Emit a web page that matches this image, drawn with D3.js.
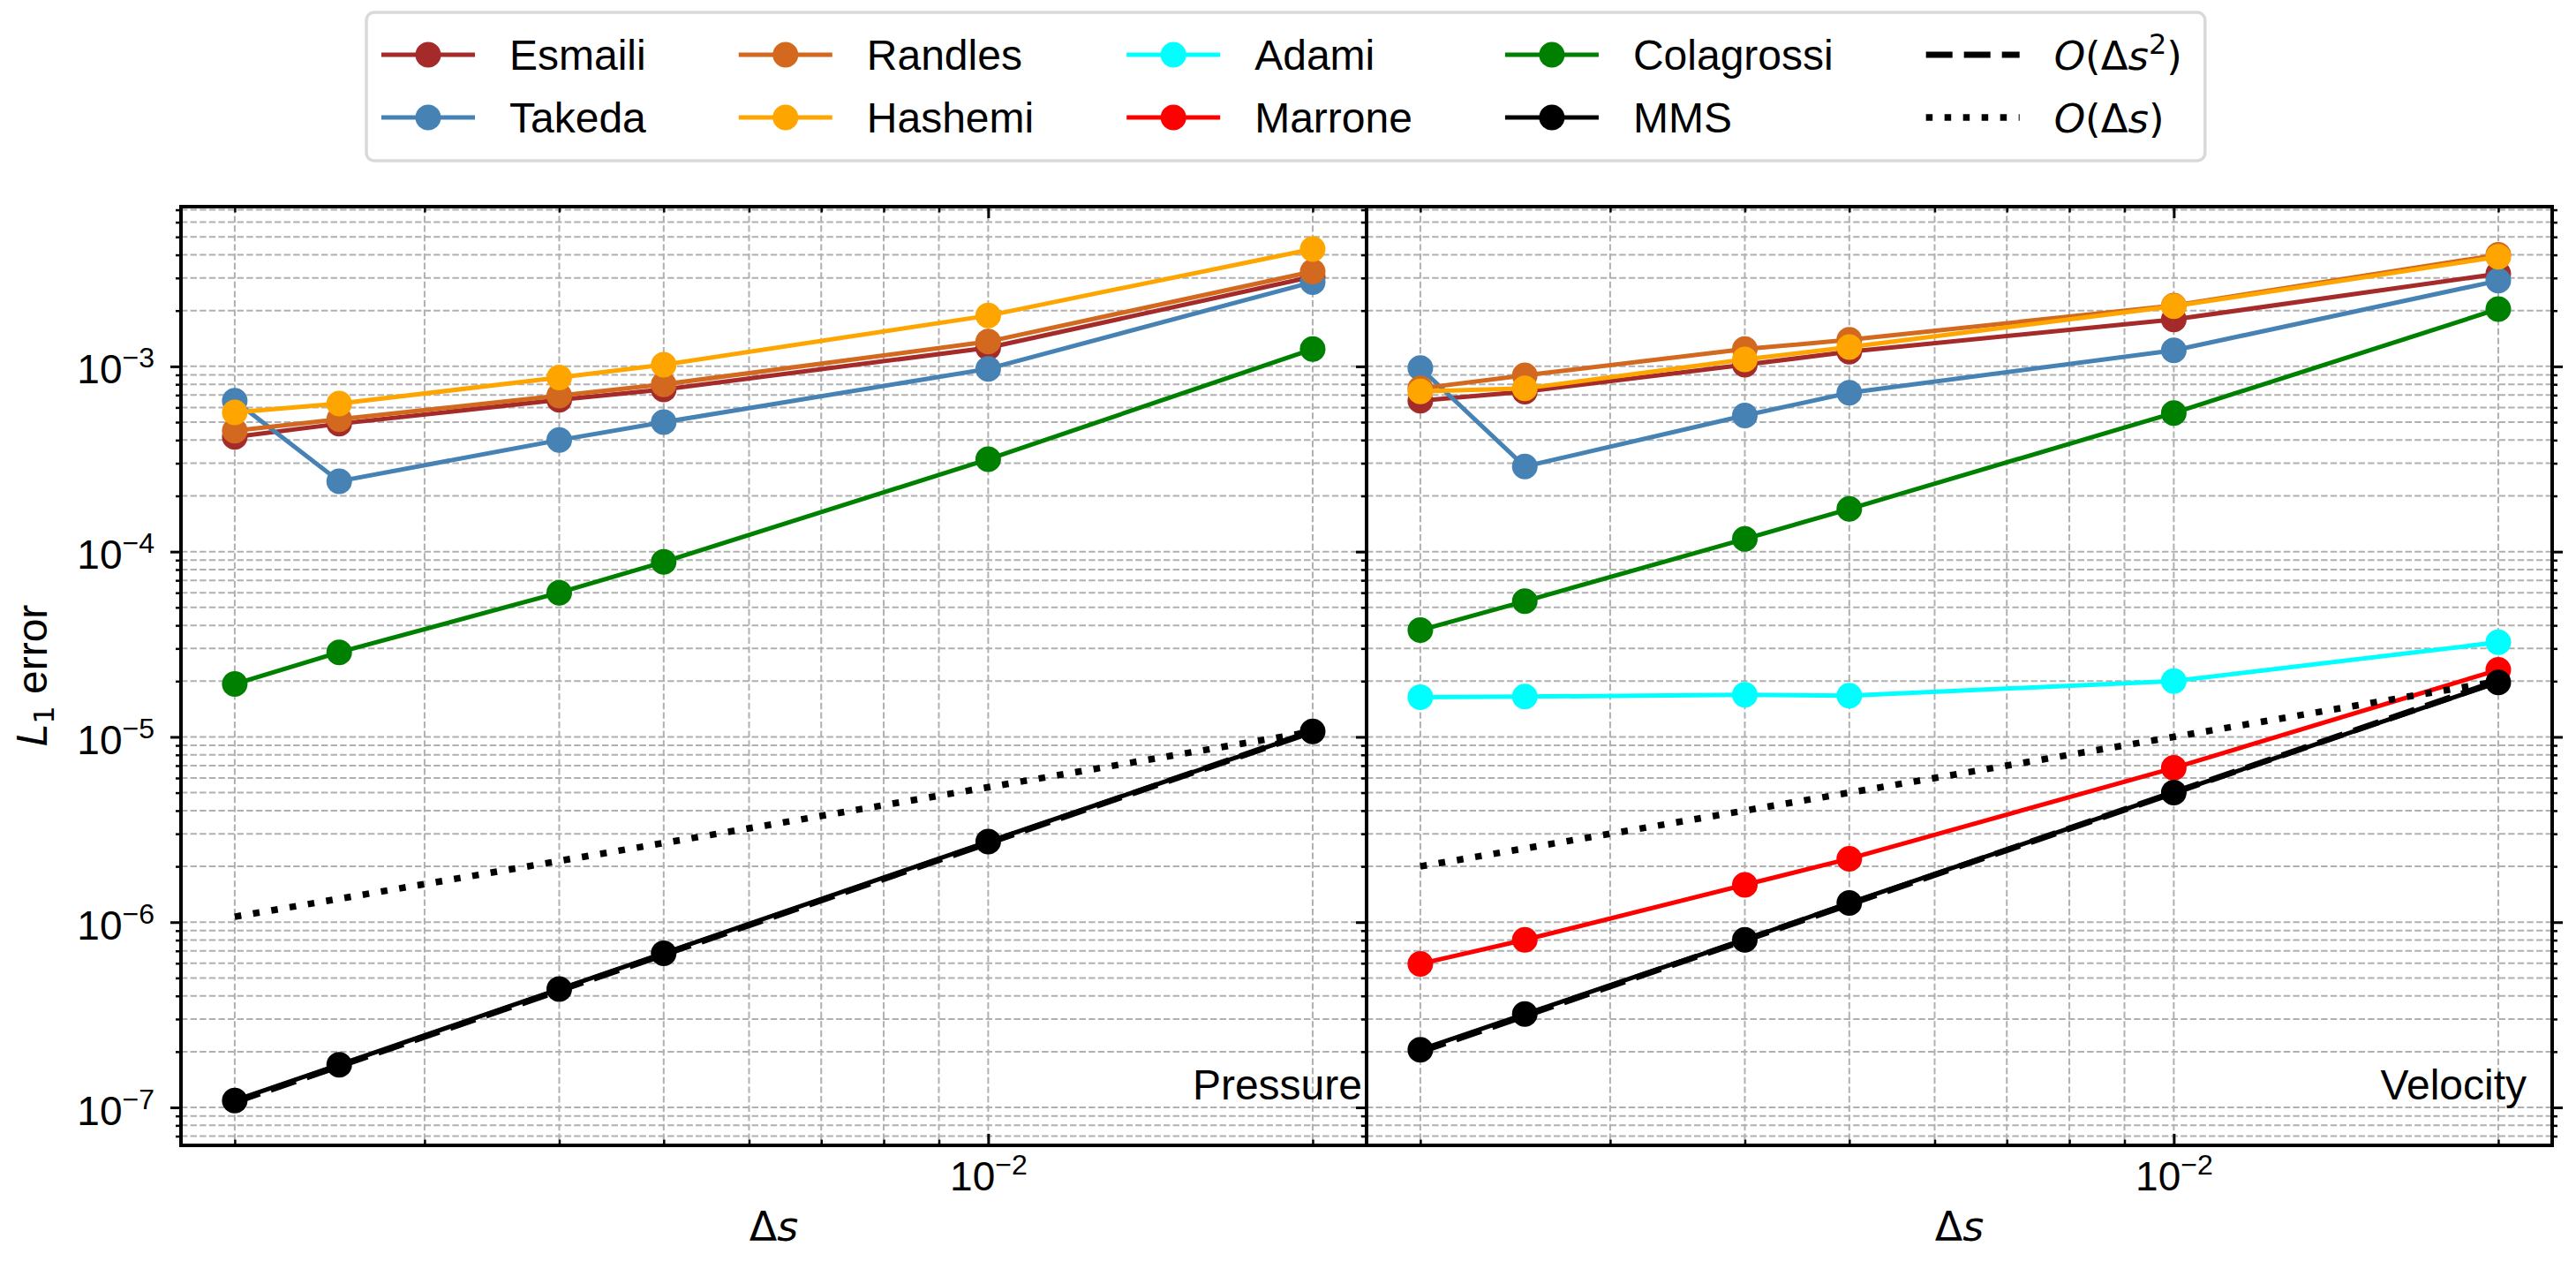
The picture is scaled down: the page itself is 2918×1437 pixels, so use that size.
<!DOCTYPE html>
<html>
<head>
<meta charset="utf-8">
<script src="https://cdn.jsdelivr.net/npm/d3@7"></script>
<style>
  body { margin: 0; background: #fff; }
  svg text { font-family: "Liberation Sans", Arial, sans-serif; fill: #000; }
  .math { font-family: "DejaVu Sans", sans-serif; }
</style>
</head>
<body>
<svg id="chart" width="2918" height="1437"></svg>
<script>
// grid spacings used in the runs
let dsValues = [0.002, 0.0025, 0.004, 0.005, 0.01, 0.02];
let refDs = [0.002, 0.02];

let methodNames = ['Esmaili', 'Takeda', 'Randles', 'Hashemi', 'Adami', 'Marrone', 'Colagrossi', 'MMS'];
let methodColors = ['#a52a2a', '#4682b4', '#d2691e', '#ffa500', '#00ffff', '#ff0000', '#008000', '#000000'];

// pressure L1 errors
let pressureEsmaili = [4.16e-4, 4.9e-4, 6.6e-4, 7.5e-4, 1.26e-3, 3.05e-3];
let pressureTakeda = [6.52e-4, 2.40e-4, 4.0e-4, 5.0e-4, 9.7e-4, 2.85e-3];
let pressureRandles = [4.49e-4, 5.18e-4, 6.95e-4, 8.0e-4, 1.36e-3, 3.25e-3];
let pressureHashemi = [5.65e-4, 6.3e-4, 8.7e-4, 1.02e-3, 1.88e-3, 4.3e-3];
let pressureColagrossi = [1.93e-5, 2.86e-5, 6.0e-5, 8.8e-5, 3.15e-4, 1.24e-3];
let pressureMMS = [1.09e-7, 1.70e-7, 4.35e-7, 6.8e-7, 2.72e-6, 1.07e-5];
let pressureOrder2 = [1.07e-7, 1.07e-5];
let pressureOrder1 = [1.07e-6, 1.07e-5];

// velocity L1 errors
let velocityEsmaili = [6.52e-4, 7.3e-4, 1.02e-3, 1.2e-3, 1.79e-3, 3.16e-3];
let velocityTakeda = [9.8e-4, 2.88e-4, 5.43e-4, 7.2e-4, 1.22e-3, 2.9e-3];
let velocityRandles = [7.6e-4, 8.95e-4, 1.24e-3, 1.39e-3, 2.13e-3, 4.0e-3];
let velocityHashemi = [7.33e-4, 7.6e-4, 1.09e-3, 1.27e-3, 2.11e-3, 3.9e-3];
let velocityAdami = [1.64e-5, 1.65e-5, 1.69e-5, 1.67e-5, 2.0e-5, 3.24e-5];
let velocityMarrone = [5.96e-7, 8.03e-7, 1.59e-6, 2.2e-6, 6.8e-6, 2.3e-5];
let velocityColagrossi = [3.77e-5, 5.4e-5, 1.17e-4, 1.7e-4, 5.6e-4, 2.04e-3];
let velocityMMS = [2.05e-7, 3.19e-7, 8.03e-7, 1.27e-6, 5.0e-6, 1.97e-5];
let velocityOrder2 = [2.0e-7, 2.0e-5];
let velocityOrder1 = [2.0e-6, 2.0e-5];

let xMajorExponents = [-2];
let yMajorExponents = [-7, -6, -5, -4, -3];
let panelTitles = ['Pressure', 'Velocity'];

let panels = [
  {
    title: panelTitles[0],
    series: {
      Esmaili: pressureEsmaili, Takeda: pressureTakeda, Randles: pressureRandles,
      Hashemi: pressureHashemi, Colagrossi: pressureColagrossi, MMS: pressureMMS
    },
    order2: pressureOrder2,
    order1: pressureOrder1
  },
  {
    title: panelTitles[1],
    series: {
      Esmaili: velocityEsmaili, Takeda: velocityTakeda, Randles: velocityRandles,
      Hashemi: velocityHashemi, Adami: velocityAdami, Marrone: velocityMarrone,
      Colagrossi: velocityColagrossi, MMS: velocityMMS
    },
    order2: velocityOrder2,
    order1: velocityOrder1
  }
];

let svg = d3.select('#chart');

let plotTop = 234, plotBottom = 1297;
let panelLeft = [205, 1548];
let panelWidth = 1343;

let y = d3.scaleLog().domain([6.24e-8, 7.28e-3]).range([plotBottom, plotTop]);
let xDomain = [1.783e-3, 2.244e-2];

// log ticks 1..9 x 10^k inside a domain
let logTicks = (domain, lo, hi) => {
  let out = [];
  for (let e = lo; e <= hi; e++) {
    for (let k = 1; k <= 9; k++) {
      let v = k * Math.pow(10, e);
      if (v >= domain[0] && v <= domain[1]) out.push(v);
    }
  }
  return out;
};
let xAll = logTicks(xDomain, -3, -2);
let xMajor = xMajorExponents.map(e => Math.pow(10, e));
let xMinor = xAll.filter(v => !xMajor.some(m => Math.abs(m - v) / m < 1e-9));
let yAll = logTicks(y.domain(), -8, -3);
let yMajor = yMajorExponents.map(e => Math.pow(10, e));
let yMinor = yAll.filter(v => !yMajor.some(m => Math.abs(m - v) / m < 1e-9));

let powerLabel = (textSel, supSize, rise) => {
  textSel.each(function (d) {
    let t = d3.select(this);
    let exp = Math.round(Math.log10(d));
    t.text(null);
    t.append('tspan').text('10');
    t.append('tspan').attr('font-size', supSize).attr('dy', -rise).text('\u2212' + Math.abs(exp));
  });
};

let line = x => d3.line().x(d => x(d[0])).y(d => y(d[1]));

panels.forEach((panel, p) => {
  let x = d3.scaleLog().domain(xDomain).range([panelLeft[p], panelLeft[p] + panelWidth]);
  let g = svg.append('g');

  // grid
  g.append('g').selectAll('line').data(xAll).enter().append('line')
    .attr('x1', d => x(d)).attr('x2', d => x(d))
    .attr('y1', plotTop).attr('y2', plotBottom)
    .attr('stroke', '#b0b0b0').attr('stroke-width', 2).attr('stroke-dasharray', '7.4,3.2');
  g.append('g').selectAll('line').data(yAll).enter().append('line')
    .attr('x1', x.range()[0]).attr('x2', x.range()[1])
    .attr('y1', d => y(d)).attr('y2', d => y(d))
    .attr('stroke', '#b0b0b0').attr('stroke-width', 2).attr('stroke-dasharray', '7.4,3.2');

  // data series
  methodNames.forEach((name, i) => {
    let vals = panel.series[name];
    if (!vals) return;
    let pts = dsValues.map((d, j) => [d, vals[j]]);
    g.append('path').datum(pts)
      .attr('d', line(x))
      .attr('fill', 'none')
      .attr('stroke', methodColors[i])
      .attr('stroke-width', 5);
    g.append('g').selectAll('circle').data(pts).enter().append('circle')
      .attr('cx', d => x(d[0])).attr('cy', d => y(d[1]))
      .attr('r', 14.5).attr('fill', methodColors[i]);
  });

  // reference slopes
  g.append('path').datum(refDs.map((d, j) => [d, panel.order2[j]]))
    .attr('d', line(x)).attr('fill', 'none').attr('stroke', '#000')
    .attr('stroke-width', 7).attr('stroke-dasharray', '30,13');
  g.append('path').datum(refDs.map((d, j) => [d, panel.order1[j]]))
    .attr('d', line(x)).attr('fill', 'none').attr('stroke', '#000')
    .attr('stroke-width', 7.5).attr('stroke-dasharray', '7.5,13.5');

  // x ticks (inward, bottom and top)
  let addX = (axisFn, ypos, size, values, labels) => {
    let a = g.append('g').attr('transform', 'translate(0,' + ypos + ')')
      .call(axisFn(x).tickValues(values).tickSize(size).tickFormat(''));
    a.select('.domain').remove();
    a.selectAll('.tick line').attr('stroke', '#000').attr('stroke-width', Math.abs(size) > 10 ? 3 : 2.5);
    if (labels) {
      a.selectAll('.tick text')
        .attr('y', 51).attr('dy', null)
        .attr('font-size', 46).attr('text-anchor', 'middle')
        .call(powerLabel, 32, 18);
    }
  };
  addX(d3.axisBottom, plotBottom, -6.5, xMinor, false);
  addX(d3.axisBottom, plotBottom, -13, xMajor, true);
  addX(d3.axisTop, plotTop, -6.5, xMinor, false);
  addX(d3.axisTop, plotTop, -13, xMajor, false);

  // y ticks (outward)
  let addY = (axisFn, xpos, size, values, labels) => {
    let a = g.append('g').attr('transform', 'translate(' + xpos + ',0)')
      .call(axisFn(y).tickValues(values).tickSize(size).tickFormat(''));
    a.select('.domain').remove();
    a.selectAll('.tick line').attr('stroke', '#000').attr('stroke-width', size > 10 ? 3 : 2.5);
    if (labels) {
      a.selectAll('.tick text')
        .attr('x', -30).attr('dy', 19)
        .attr('font-size', 46).attr('text-anchor', 'end')
        .call(powerLabel, 32, 18);
    }
  };
  addY(d3.axisLeft, x.range()[0], 6, yMinor, false);
  addY(d3.axisLeft, x.range()[0], 12, yMajor, p === 0);
  if (p === 1) {
    addY(d3.axisRight, x.range()[1], 6, yMinor, false);
    addY(d3.axisRight, x.range()[1], 12, yMajor, false);
  }

  // frame
  g.append('rect')
    .attr('x', x.range()[0]).attr('y', plotTop)
    .attr('width', panelWidth).attr('height', plotBottom - plotTop)
    .attr('fill', 'none').attr('stroke', '#000').attr('stroke-width', 4);

  // panel title
  g.append('text')
    .attr('x', p === 0 ? x.range()[1] - 5 : x.range()[1] - 29)
    .attr('y', 1245)
    .attr('text-anchor', 'end')
    .attr('font-size', 48)
    .text(panel.title);

  // x label
  let xl = g.append('text')
    .attr('class', 'math')
    .attr('x', (x.range()[0] + x.range()[1]) / 2)
    .attr('y', 1405)
    .attr('text-anchor', 'middle')
    .attr('font-size', 46);
  xl.append('tspan').text('\u0394');
  xl.append('tspan').attr('font-style', 'italic').text('s');
});

// y label
let yl = svg.append('text')
  .attr('transform', 'translate(53,765) rotate(-90)')
  .attr('text-anchor', 'middle')
  .attr('font-size', 48);
yl.append('tspan').attr('class', 'math').attr('font-style', 'italic').attr('font-size', 46).text('L');
yl.append('tspan').attr('class', 'math').attr('font-size', 32).attr('dy', 8).text('1');
yl.append('tspan').attr('dy', -8).text(' error');

// legend
let legend = svg.append('g');
let legendBox = legend.append('rect')
  .attr('x', 415).attr('y', 14).attr('height', 168).attr('rx', 9)
  .attr('fill', '#fff').attr('stroke', '#d9d9d9').attr('stroke-width', 3.5);

let legendItems = methodNames.map((name, i) => ({ name: name, color: methodColors[i], kind: 'marker' }));
legendItems.push({ name: 'O2', color: '#000', kind: 'dash' });
legendItems.push({ name: 'O1', color: '#000', kind: 'dot' });

let rowY = [62, 133];
let handleLen = 106, textOffset = 145, colGap = 105;
let colX = 432;
let lastRight = 0;
for (let c = 0; c < 5; c++) {
  let items = legendItems.slice(c * 2, c * 2 + 2);
  let widths = [];
  items.forEach((it, r) => {
    let cy = rowY[r];
    let h = legend.append('line')
      .attr('x1', colX).attr('x2', colX + handleLen)
      .attr('y1', cy).attr('y2', cy)
      .attr('stroke', it.color);
    if (it.kind === 'marker') {
      h.attr('stroke-width', 5);
      legend.append('circle').attr('cx', colX + handleLen / 2).attr('cy', cy)
        .attr('r', 14.5).attr('fill', it.color);
    } else if (it.kind === 'dash') {
      h.attr('stroke-width', 7).attr('stroke-dasharray', '30,13');
    } else {
      h.attr('stroke-width', 7.5).attr('stroke-dasharray', '7.5,13.5');
    }
    let t = legend.append('text')
      .attr('x', colX + textOffset).attr('y', cy + 17)
      .attr('font-size', 48);
    if (it.kind === 'marker') {
      t.text(it.name);
    } else {
      t.attr('class', 'math').attr('font-size', 45);
      t.append('tspan').attr('font-style', 'italic').text('O');
      t.append('tspan').text('(\u0394');
      t.append('tspan').attr('font-style', 'italic').text('s');
      if (it.kind === 'dash') {
        t.append('tspan').attr('font-size', 32).attr('dy', -18).text('2');
        t.append('tspan').attr('dy', 18).text(')');
      } else {
        t.append('tspan').text(')');
      }
    }
    widths.push(t.node().getComputedTextLength());
  });
  let w = d3.max(widths);
  lastRight = colX + textOffset + w;
  colX = lastRight + colGap;
}
legendBox.attr('width', lastRight + 26 - 415);
</script>
</body>
</html>
